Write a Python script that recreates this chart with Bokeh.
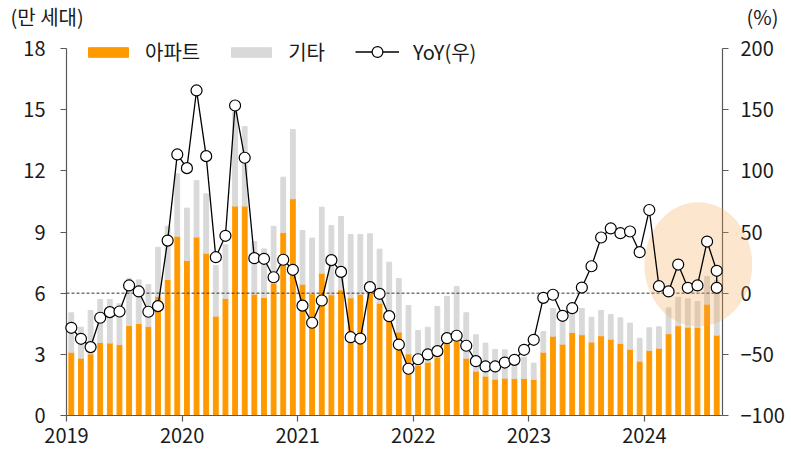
from bokeh.plotting import figure
from bokeh.models import (LinearAxis, Range1d, FixedTicker, Span, Legend, LegendItem,
                          Label, ColumnDataSource, GridBox)
from bokeh.embed import file_html
from bokeh.resources import INLINE

FONT = "Noto Sans CJK KR"

# ---- data ----
months = [f"{y}-{m:02d}" for y in range(2019, 2025) for m in range(1, 13)][:68]
apt = [3.10, 2.81, 3.02, 3.58, 3.55, 3.48, 4.41, 4.51, 4.36, 5.84, 6.67, 8.79,
       7.60, 8.75, 7.96, 4.87, 5.74, 10.27, 10.27, 5.95, 5.79, 6.49, 8.97, 10.63,
       6.44, 5.97, 6.98, 5.92, 6.16, 5.77, 5.95, 6.00, 5.51, 4.66, 4.09, 3.02,
       2.45, 2.61, 2.86, 3.52, 3.64, 2.81, 2.17, 1.93, 1.78, 1.83, 1.81, 1.81,
       1.77, 3.10, 3.89, 3.50, 4.07, 3.96, 3.60, 3.91, 3.74, 3.53, 3.25, 2.66,
       3.19, 3.30, 4.01, 4.40, 4.33, 4.33, 5.46, 3.94]
total = [5.04, 4.33, 5.15, 5.69, 5.69, 5.48, 6.73, 6.65, 6.42, 8.25, 9.28, 11.85,
         10.17, 11.52, 10.87, 7.36, 8.37, 14.90, 14.17, 8.53, 8.17, 9.28, 11.69, 14.03,
         9.07, 8.70, 10.22, 9.32, 9.76, 8.88, 8.88, 8.91, 8.16, 7.52, 6.72, 5.39,
         4.17, 4.33, 5.35, 5.84, 6.33, 5.04, 3.96, 3.55, 3.24, 3.22, 2.86, 2.86,
         2.57, 4.12, 5.25, 4.82, 5.18, 5.25, 4.82, 5.15, 4.95, 4.79, 4.53, 3.79,
         4.30, 4.35, 5.28, 5.80, 5.72, 5.59, 6.82, 6.62]
other = [round(t - a, 2) for t, a in zip(total, apt)]
yoy = [-28.3, -37.3, -44.1, -20.1, -15.5, -15.0, 6.3, 1.4, -15.2, -10.6, 43.0, 113.4,
       102.2, 165.7, 112.0, 29.4, 46.9, 153.4, 110.7, 28.6, 28.1, 13.0, 27.3, 19.1,
       -10.2, -24.2, -6.0, 27.0, 17.4, -36.0, -37.1, 4.9, -0.5, -18.8, -42.0, -61.8,
       -54.0, -50.1, -47.4, -36.8, -34.8, -43.0, -55.6, -59.9, -59.9, -56.7, -54.5, -46.3,
       -38.1, -3.8, -1.3, -18.5, -12.3, 4.6, 22.0, 45.5, 52.9, 49.0, 50.4, 33.5,
       68.0, 5.7, 1.4, 23.4, 4.4, 6.3, 42.2, 18.3]
yoy_last_alt = 4.4          # second marker drawn on the last month
year_labels = ["2019", "2020", "2021", "2022", "2023", "2024"]
left_ticks = [0, 3, 6, 9, 12, 15, 18]
right_ticks = [-100, -50, 0, 50, 100, 150, 200]

x = [i + 0.5 for i in range(len(months))]
src = ColumnDataSource(dict(x=x, month=months, apt=apt, other=other))
line_src = ColumnDataSource(dict(x=x + [x[-1]], y=yoy + [yoy_last_alt]))

# ---- geometry (canvas pixels) ----
W, H = 791, 456
FL, FR = 66, 722             # left / right axis lines
AX_TOP, AX_BOT = 48, 415     # top / bottom of the value axes
FT = 18                      # frame top (extended above the axes for the legend)
X0, X1 = 0, 68.1
L_MIN, L_MAX = left_ticks[0], left_ticks[-1]
R_MIN, R_MAX = right_ticks[0], right_ticks[-1]
PX_X = (FR - FL) / (X1 - X0)
PX_YL = (AX_BOT - AX_TOP) / (L_MAX - L_MIN)
PX_YR = (AX_BOT - AX_TOP) / (R_MAX - R_MIN)

# ================= base layer: bars, axes =================
p = figure(width=W, height=H, x_range=Range1d(X0, X1),
           y_range=Range1d(L_MIN, L_MIN + (AX_BOT - FT) / PX_YL),
           output_backend="svg", toolbar_location=None,
           min_border_left=FL, min_border_right=W - FR, min_border_top=FT,
           min_border_bottom=H - AX_BOT)
p.frame_align = False
p.outline_line_color = None
p.xgrid.visible = False
p.ygrid.visible = False
p.extra_y_ranges = {"yoy": Range1d(R_MIN, R_MIN + (AX_BOT - FT) / PX_YR)}

bars = p.vbar_stack(["apt", "other"], x="x", width=0.5, source=src,
                    color=["#FF9900", "#D9D9D9"])

p.add_layout(Span(location=0, dimension="width", y_range_name="yoy", line_color="#333333",
                  line_dash="3 2", line_width=1))

AX = "#595959"
def style_axis(ax, standoff):
    ax.major_tick_out = 6
    ax.major_tick_in = 0
    ax.minor_tick_line_color = None
    ax.axis_line_color = AX
    ax.major_tick_line_color = AX
    ax.axis_line_width = 1.2
    ax.major_tick_line_width = 1.2
    ax.major_label_text_font = FONT
    ax.major_label_text_font_size = "20px"
    ax.major_label_text_color = "#1a1a1a"
    ax.major_label_standoff = standoff

yl = p.yaxis[0]
yl.ticker = FixedTicker(ticks=left_ticks)
yl.bounds = (L_MIN, L_MAX)
style_axis(yl, 15)

yr = LinearAxis(y_range_name="yoy", ticker=FixedTicker(ticks=right_ticks), bounds=(R_MIN, R_MAX))
style_axis(yr, 12)
p.add_layout(yr, "right")

year_ticks = [12 * k for k in range(len(year_labels))]
xa = p.xaxis[0]
xa.ticker = FixedTicker(ticks=year_ticks)
xa.major_label_overrides = {tk: lb for tk, lb in zip(year_ticks, year_labels)}
style_axis(xa, 6)

leg1 = Legend(items=[LegendItem(label="아파트", renderers=[bars[0]]),
                     LegendItem(label="기타", renderers=[bars[1]])],
              orientation="horizontal", location=(17, 349), glyph_width=50, glyph_height=12,
              label_standoff=12, spacing=26, padding=0, margin=0, border_line_color=None,
              background_fill_alpha=0, label_text_font=FONT, label_text_font_size="20px",
              label_text_color="#1a1a1a")
p.add_layout(leg1)

# ================= overlay layer: highlight, YoY line, titles =================
p2 = figure(width=W, height=H,
            x_range=Range1d(X0 - FL / PX_X, X1 + (W - FR) / PX_X),
            y_range=Range1d(L_MIN - (H - AX_BOT) / PX_YL, L_MIN + AX_BOT / PX_YL),
            output_backend="svg", toolbar_location=None, x_axis_type=None, y_axis_type=None,
            min_border_left=0, min_border_right=0, min_border_top=0, min_border_bottom=0)
p2.frame_align = False
p2.extra_y_ranges = {"yoy": Range1d(R_MIN - (H - AX_BOT) / PX_YR, R_MIN + AX_BOT / PX_YR)}
p2.background_fill_color = None
p2.border_fill_color = None
p2.outline_line_color = None

hl_cx, hl_cy, hl_rx, hl_ry = 65.59, 7.41, 5.59, 3.05
p2.ellipse(x=[hl_cx], y=[hl_cy], width=[2 * hl_rx], height=[2 * hl_ry],
           fill_color="#F5A54A", fill_alpha=0.28, line_color=None)

line_r = p2.line("x", "y", source=line_src, y_range_name="yoy", line_color="black", line_width=1.3)
sc_r = p2.scatter("x", "y", source=line_src, y_range_name="yoy", size=11, fill_color="white",
                  line_color="black", line_width=1.2)

leg2 = Legend(items=[LegendItem(label="YoY(우)", renderers=[line_r, sc_r])],
              orientation="horizontal", location=(FL + 289, (H - AX_BOT) + 349),
              glyph_width=44, glyph_height=27,
              label_standoff=14, padding=0, margin=0, border_line_color=None,
              background_fill_alpha=0, label_text_font=FONT, label_text_font_size="20px",
              label_text_color="#1a1a1a")
p2.add_layout(leg2)

p2.add_layout(Label(x=10, y=H - 16, x_units="screen", y_units="screen", text="(만 세대)",
                    text_font=FONT, text_font_size="20px", text_baseline="middle",
                    text_align="left", text_color="#1a1a1a"))
p2.add_layout(Label(x=778, y=H - 16, x_units="screen", y_units="screen", text="(%)",
                    text_font=FONT, text_font_size="20px", text_baseline="middle",
                    text_align="right", text_color="#1a1a1a"))

layout = GridBox(children=[(p, 0, 0), (p2, 0, 0)])
open("out.html", "w").write(file_html(layout, INLINE))
